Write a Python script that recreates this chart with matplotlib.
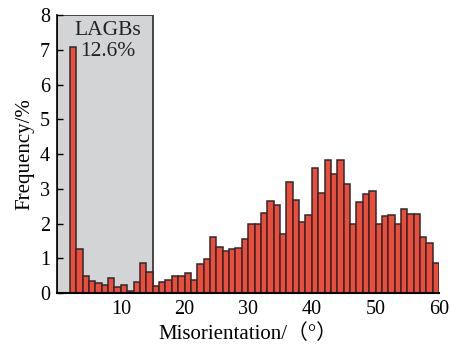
import matplotlib

matplotlib.use("Agg")

import matplotlib.pyplot as plt  # noqa: E402
from matplotlib.patches import Rectangle  # noqa: E402

# bin left edges (degrees), 1 degree bins from 2 to 59
bin_left = list(range(2, 60))
frequency = [
    7.09, 1.26, 0.50, 0.35, 0.29, 0.23, 0.43, 0.18, 0.22, 0.07,
    0.31, 0.86, 0.60, 0.20, 0.33, 0.37, 0.50, 0.50, 0.57, 0.38,
    0.84, 0.99, 1.60, 1.32, 1.20, 1.26, 1.30, 1.55, 1.98, 1.98,
    2.30, 2.65, 2.54, 1.71, 3.19, 2.67, 2.05, 2.25, 3.61, 2.87,
    3.82, 3.44, 3.83, 3.13, 2.00, 2.61, 2.86, 2.93, 1.98, 2.21,
    2.25, 1.99, 2.41, 2.27, 2.27, 1.60, 1.44, 0.88,
]
lagb_limit = 15
lagb_label = "LAGBs\n12.6%"
x_ticks = [10, 20, 30, 40, 50, 60]
y_ticks = list(range(0, 9))

plt.rcParams["font.family"] = ["Liberation Serif", "Noto Sans CJK SC"]
plt.rcParams["font.size"] = 14.5

fig = plt.figure(figsize=(4.5, 3.44), dpi=100)
ax = fig.add_axes([0.127, 0.148, 0.849, 0.808])

ax.add_patch(
    Rectangle((0, 0), lagb_limit, 8, facecolor="#d3d4d6", edgecolor="#3a3a3a",
              linewidth=1.3, zorder=0)
)
ax.bar(bin_left, frequency, width=1.0, align="edge", color="#ef4b3b",
       edgecolor="#2b2b2b", linewidth=1.1, zorder=2)
ax.text(8, 7.84, lagb_label, ha="center", va="top", linespacing=1.15,
        fontsize=15.5, color="#222222", zorder=3)

ax.set_xlim(0, 60)
ax.set_ylim(0, 8)
ax.set_xticks(x_ticks)
ax.set_yticks(y_ticks)
ax.tick_params(axis="y", direction="in", length=4, width=1, pad=5)
ax.tick_params(axis="x", length=0, pad=5)
ax.spines["top"].set_visible(False)
ax.spines["right"].set_visible(False)
ax.spines["left"].set_linewidth(1.2)
ax.spines["bottom"].set_linewidth(1.5)
ax.spines["bottom"].set_zorder(4)

ax.set_xlabel("Misorientation/（°）", fontsize=15, labelpad=4)
ax.set_ylabel("Frequency/%", fontsize=15, labelpad=4)

fig.savefig("out.png", dpi=100)
